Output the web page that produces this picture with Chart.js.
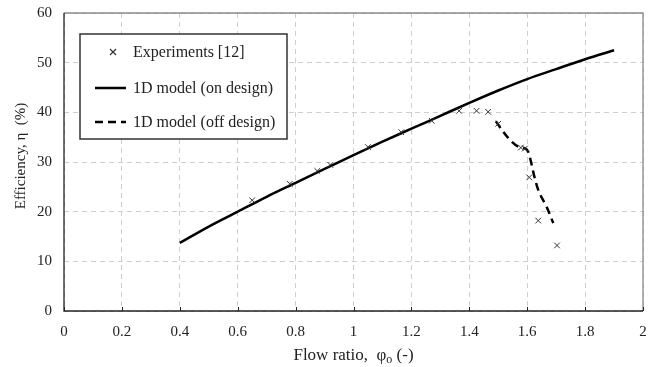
<!DOCTYPE html>
<html>
<head>
<meta charset="utf-8">
<script src="https://cdn.jsdelivr.net/npm/chart.js@4"></script>
<style>
  html, body { margin: 0; padding: 0; background: #fff; }
  #wrap { width: 657px; height: 367px; position: relative; }
</style>
</head>
<body>
<div id="wrap"><canvas id="chart"></canvas></div>
<script>
// experimental points
const expX = [0.65, 0.78, 0.875, 0.92, 1.05, 1.165, 1.27, 1.365, 1.425, 1.465, 1.50, 1.578, 1.592, 1.607, 1.638, 1.703];
const expY = [22.3, 25.6, 28.2, 29.4, 33.0, 36.0, 38.3, 40.3, 40.3, 40.1, 37.7, 32.9, 32.7, 26.9, 18.2, 13.2];

// 1D model, on design
const onX = [0.4, 0.5, 0.6, 0.7, 0.8, 0.9, 1.0, 1.1, 1.2, 1.3, 1.4, 1.5, 1.6, 1.7, 1.8, 1.9];
const onY = [13.7, 17.0, 20.0, 23.0, 25.8, 28.6, 31.4, 34.1, 36.7, 39.3, 41.9, 44.4, 46.7, 48.7, 50.7, 52.5];

// 1D model, off design
const offX = [1.492, 1.512, 1.535, 1.569, 1.590, 1.604, 1.614, 1.625, 1.638, 1.667, 1.690];
const offY = [38.2, 36.5, 34.8, 33.1, 32.8, 32.0, 29.8, 27.0, 24.4, 21.0, 17.7];

const xTicks = [0, 0.2, 0.4, 0.6, 0.8, 1, 1.2, 1.4, 1.6, 1.8, 2];
const yTicks = [0, 10, 20, 30, 40, 50, 60];

const labels = ['Experiments [12]', '1D model (on design)', '1D model (off design)'];

const serif = '"Liberation Serif", "Times New Roman", serif';
const pts = (xs, ys) => xs.map((x, i) => ({ x: x, y: ys[i] }));

// frame, inner x ticks, axis titles, boxed legend
const extras = {
  id: 'extras',
  afterDraw(chart) {
    const c = chart.ctx;
    const a = chart.chartArea;
    const xs = chart.scales.x;
    c.save();

    c.lineWidth = 1.3;
    c.strokeStyle = '#8a8a8a';
    c.beginPath();
    c.moveTo(a.left, a.top); c.lineTo(a.right, a.top); c.lineTo(a.right, a.bottom);
    c.stroke();
    c.strokeStyle = '#222';
    c.beginPath();
    c.moveTo(a.left, a.top); c.lineTo(a.left, a.bottom); c.lineTo(a.right, a.bottom);
    c.stroke();

    c.lineWidth = 1;
    c.beginPath();
    xTicks.forEach(v => {
      const px = Math.round(xs.getPixelForValue(v)) + 0.5;
      c.moveTo(px, a.bottom); c.lineTo(px, a.bottom - 4);
    });
    c.stroke();

    c.fillStyle = '#222';
    c.textBaseline = 'alphabetic';
    // x title with subscript
    const big = '17px ' + serif, small = '12px ' + serif;
    const t1 = 'Flow ratio,  φ', t2 = 'o', t3 = ' (-)';
    c.font = big;
    const w1 = c.measureText(t1).width;
    const w3 = c.measureText(t3).width;
    c.font = small;
    const w2 = c.measureText(t2).width;
    const tx = (a.left + a.right) / 2 - (w1 + w2 + w3) / 2;
    const ty = 360;
    c.textAlign = 'left';
    c.font = big;
    c.fillText(t1, tx, ty);
    c.fillText(t3, tx + w1 + w2, ty);
    c.font = small;
    c.fillText(t2, tx + w1, ty + 3);

    // y title
    c.save();
    c.translate(25, 156);
    c.rotate(-Math.PI / 2);
    c.textAlign = 'center';
    c.font = '15px ' + serif;
    c.fillText('Efficiency, η  (%)', 0, 0);
    c.restore();

    // legend box
    c.lineWidth = 1.5;
    c.strokeStyle = '#333';
    c.fillStyle = '#fff';
    c.fillRect(80, 34, 207, 105);
    c.strokeRect(80, 34, 207, 105);
    const rows = [52, 88, 122];
    c.font = '16px ' + serif;
    c.textBaseline = 'middle';
    chart.data.datasets.forEach((ds, i) => {
      const y = rows[i];
      c.strokeStyle = ds.borderColor;
      if (ds.showLine === false) {
        c.lineWidth = 1.2;
        const r = 3;
        c.beginPath();
        c.moveTo(113 - r, y - r); c.lineTo(113 + r, y + r);
        c.moveTo(113 + r, y - r); c.lineTo(113 - r, y + r);
        c.stroke();
      } else {
        c.lineWidth = ds.borderWidth;
        c.setLineDash(ds.borderDash || []);
        c.beginPath();
        c.moveTo(95, y); c.lineTo(126, y);
        c.stroke();
        c.setLineDash([]);
      }
      c.fillStyle = '#222';
      c.fillText(ds.label, 133, y + 1);
    });
    c.restore();
  }
};

new Chart(document.getElementById('chart'), {
  type: 'scatter',
  data: {
    datasets: [
      {
        label: labels[0],
        data: pts(expX, expY),
        showLine: false,
        pointStyle: 'crossRot',
        pointRadius: 4,
        borderWidth: 1,
        borderColor: '#333',
        backgroundColor: '#333'
      },
      {
        label: labels[1],
        data: pts(onX, onY),
        showLine: true,
        pointRadius: 0,
        borderWidth: 2.5,
        borderColor: '#000',
        cubicInterpolationMode: 'monotone'
      },
      {
        label: labels[2],
        data: pts(offX, offY),
        showLine: true,
        pointRadius: 0,
        borderWidth: 2.5,
        borderDash: [8, 5],
        borderColor: '#000',
        cubicInterpolationMode: 'monotone'
      }
    ]
  },
  options: {
    responsive: true,
    maintainAspectRatio: false,
    animation: false,
    layout: { padding: { left: 0, top: 13, right: 14, bottom: 0 } },
    plugins: { legend: { display: false }, tooltip: { enabled: false } },
    scales: {
      x: {
        type: 'linear',
        min: 0, max: 2,
        afterBuildTicks: s => { s.ticks = xTicks.map(v => ({ value: v })); },
        afterFit: s => { s.height = 56; s.paddingLeft = 0; s.paddingRight = 0; },
        ticks: {
          autoSkip: false,
          maxRotation: 0,
          padding: 12,
          color: '#222',
          font: { family: serif, size: 15 },
          callback: v => String(Number(v.toFixed(1)))
        },
        grid: { color: '#cfcfcf', lineWidth: 1, drawTicks: false },
        border: { display: false, dash: [5, 4] }
      },
      y: {
        min: 0, max: 60,
        afterBuildTicks: s => { s.ticks = yTicks.map(v => ({ value: v })); },
        afterFit: s => { s.width = 64; s.paddingTop = 0; s.paddingBottom = 0; },
        ticks: {
          padding: 12,
          color: '#222',
          font: { family: serif, size: 15 }
        },
        grid: { color: '#cfcfcf', lineWidth: 1, drawTicks: false },
        border: { display: false, dash: [5, 4] }
      }
    }
  },
  plugins: [extras]
});
</script>
</body>
</html>
